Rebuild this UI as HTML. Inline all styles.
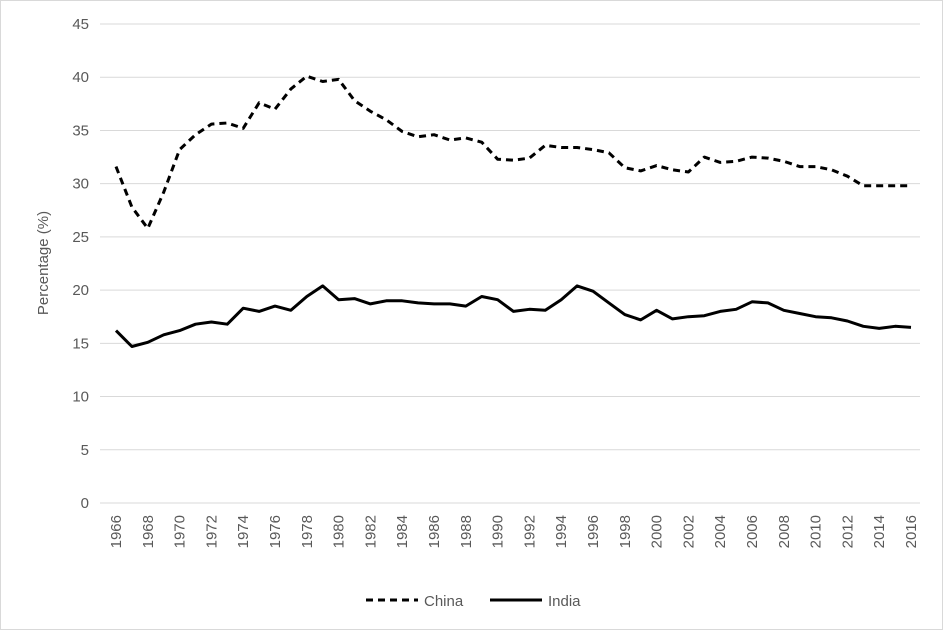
<!DOCTYPE html>
<html><head><meta charset="utf-8"><style>
body{margin:0;background:#fff}
svg{display:block;font-family:"Liberation Sans",sans-serif}
</style></head><body>
<svg id="chart" width="943" height="630">
<rect x="0.5" y="0.5" width="942" height="629" fill="#fff" stroke="#d9d9d9"/>
<g id="grid"></g><g id="yt"></g><g id="xt"></g><g id="lines"></g>
<text x="48" y="263" transform="rotate(-90 48 263)" text-anchor="middle" font-size="15" fill="#595959">Percentage (%)</text>
<g>
<line x1="366" y1="600" x2="418" y2="600" stroke="#000" stroke-width="3" stroke-dasharray="7,5"/>
<text x="424" y="606" font-size="15" fill="#595959">China</text>
<line x1="490" y1="600" x2="542" y2="600" stroke="#000" stroke-width="3"/>
<text x="548" y="606" font-size="15" fill="#595959">India</text>
</g>
</svg>
<script>
const years=[];for(let y=1966;y<=2016;y++)years.push(y);
const china=[31.6,27.8,25.8,29.2,33.2,34.6,35.6,35.7,35.2,37.6,37.0,38.9,40.1,39.6,39.8,37.8,36.8,36.0,34.9,34.4,34.6,34.1,34.3,33.9,32.3,32.2,32.4,33.6,33.4,33.4,33.2,32.9,31.5,31.2,31.7,31.3,31.1,32.5,32.0,32.1,32.5,32.4,32.1,31.6,31.6,31.3,30.7,29.8,29.8,29.8,29.8];
const india=[16.2,14.7,15.1,15.8,16.2,16.8,17.0,16.8,18.3,18.0,18.5,18.1,19.4,20.4,19.1,19.2,18.7,19.0,19.0,18.8,18.7,18.7,18.5,19.4,19.1,18.0,18.2,18.1,19.1,20.4,19.9,18.8,17.7,17.2,18.1,17.3,17.5,17.6,18.0,18.2,18.9,18.8,18.1,17.8,17.5,17.4,17.1,16.6,16.4,16.6,16.5];
const yTicks=[0,5,10,15,20,25,30,35,40,45];
const NS="http://www.w3.org/2000/svg";
const X=y=>116+(y-1966)*(911-116)/50;
const Y=v=>503-v*(503-24)/45;
function mk(t,a,p){const e=document.createElementNS(NS,t);for(const k in a)e.setAttribute(k,a[k]);document.getElementById(p).appendChild(e);return e;}
yTicks.forEach(v=>{
 const l=mk('line',{x1:100,x2:920,y1:Y(v),y2:Y(v),stroke:'#d9d9d9','stroke-width':1},'grid');
 
 
 const t=mk('text',{x:89,y:Y(v)+5,'text-anchor':'end','font-size':15,fill:'#595959'},'yt');
 t.textContent=v;
 
 
});
years.forEach(y=>{if((y-1966)%2)return;
 const t=mk('text',{x:X(y)+5,y:515,'text-anchor':'end','font-size':15,fill:'#595959',transform:`rotate(-90 ${X(y)+5} 515)`},'xt');
 t.textContent=y;
 
 
});
function path(d,dash,name){
 const p=mk('path',{d:d.map((v,i)=>(i?'L':'M')+X(years[i]).toFixed(1)+','+Y(v).toFixed(1)).join(''),fill:'none',stroke:'#000','stroke-width':3,'stroke-linejoin':'round'},'lines');
 if(dash)p.setAttribute('stroke-dasharray','7,5');
 
 
}
path(china,true,'china-line');
path(india,false,'india-line');
</script>
</body></html>
